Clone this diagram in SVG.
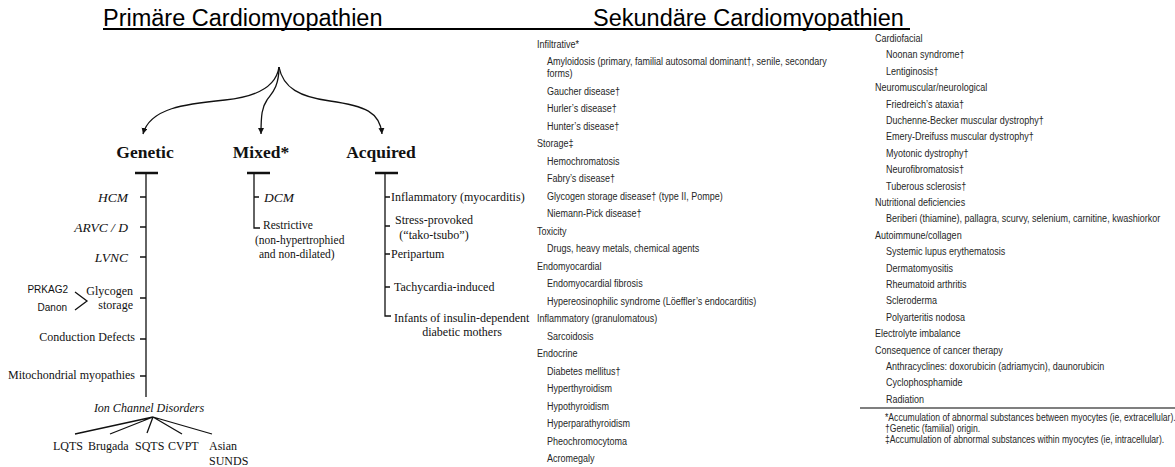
<svg xmlns="http://www.w3.org/2000/svg" width="1175" height="467" viewBox="0 0 1175 467">
<style>
.hdr{font-family:"Liberation Sans",Arial,sans-serif;font-size:23.5px;fill:#000}
.cat{font-family:"Times New Roman","Liberation Serif",serif;font-weight:bold;font-size:17.5px;fill:#111;text-anchor:middle}
.it{font-family:"Times New Roman","Liberation Serif",serif;font-size:12px;fill:#111}
.iti{font-family:"Times New Roman","Liberation Serif",serif;font-style:italic;font-size:13.5px;fill:#111}
.sm{font-family:"Times New Roman","Liberation Serif",serif;font-size:11.5px;fill:#111}
.ss{font-family:"Liberation Sans",Arial,sans-serif;font-size:10px;fill:#111}
.ln{stroke:#111;stroke-width:1.3;fill:none}
.bar{stroke:#111;stroke-width:2.5;fill:none}
.cv{stroke:#111;stroke-width:1.3;fill:none;marker-end:url(#ah)}
.ls{font-family:"Liberation Sans",Arial,sans-serif;font-size:11px;fill:#262626}
.fn{font-family:"Liberation Sans",Arial,sans-serif;font-size:10.5px;fill:#262626}
.end{text-anchor:end}
.mid{text-anchor:middle}
</style>
<defs>
<marker id="ah" markerUnits="userSpaceOnUse" markerWidth="7" markerHeight="7" refX="6" refY="3" orient="auto">
<path d="M0,0 L6,3 L0,6 z" fill="#111"/>
</marker>
</defs>
<rect width="1175" height="467" fill="#fff"/>

<g id="headers">
<text class="hdr" x="103" y="26">Primäre Cardiomyopathien</text>
<text class="hdr" x="593" y="26">Sekundäre Cardiomyopathien</text>
<line x1="103" y1="29" x2="910" y2="29" stroke="#000" stroke-width="2"/>
</g>

<g id="connectors">
<path class="cv" d="M279,67 C276,88 255,97 225,100 C185,104 150,108 143,134"/>
<path class="cv" d="M279,67 C279,88 271,94 267,100 C262,107 261,115 261,134"/>
<path class="cv" d="M279,67 C283,88 300,97 330,101 C365,106 380,112 382,134"/>
<line class="bar" x1="135" y1="173" x2="158" y2="173"/>
<line class="bar" x1="247" y1="173" x2="270" y2="173"/>
<line class="bar" x1="375" y1="173" x2="398" y2="173"/>
<path class="ln" d="M146,173 V397 M140,197 H146 M140,227 H146 M140,257 H146 M140,298 H146 M140,339 H146 M140,376 H146"/>
<path class="ln" d="M75,292 L87,301 L75,310"/>
<path class="ln" d="M153,417 L75,434 M153,417 L110,434 M153,417 L147,433 M153,417 L182,434 M153,417 L212,434"/>
<path class="ln" d="M254,173 V228 H260 M254,197 H259"/>
<path class="ln" d="M385,173 V316 H391 M385,197 H390 M385,226 H390 M385,254 H390 M385,287 H390"/>
</g>

<g id="root-genetic">
<text class="cat" x="145" y="158">Genetic</text>
<text class="iti end" x="128" y="202">HCM</text>
<text class="iti end" x="128" y="232">ARVC / D</text>
<text class="iti end" x="128" y="262">LVNC</text>
<text class="it end" x="133" y="295">Glycogen</text>
<text class="it end" x="133" y="309">storage</text>
<text class="ss end" x="68" y="292.5">PRKAG2</text>
<text class="ss end" x="67" y="310.5">Danon</text>
<text class="it end" x="135" y="341">Conduction Defects</text>
<text class="it end" x="135" y="379">Mitochondrial myopathies</text>
<text class="it mid" x="149" y="412" font-style="italic">Ion Channel Disorders</text>
<text class="it" x="53" y="450">LQTS</text>
<text class="it" x="88" y="450">Brugada</text>
<text class="it" x="135" y="450">SQTS</text>
<text class="it" x="168" y="450">CVPT</text>
<text class="it" x="209" y="450">Asian</text>
<text class="it" x="209" y="465">SUNDS</text>
</g>

<g id="mixed">
<text class="cat" x="261" y="158">Mixed*</text>
<text class="iti" x="264" y="202">DCM</text>
<text class="sm" x="263" y="229">Restrictive</text>
<text class="sm" x="255" y="244">(non-hypertrophied</text>
<text class="sm" x="259" y="258">and non-dilated)</text>
</g>

<g id="acquired">
<text class="cat" x="381" y="158">Acquired</text>
<text class="it" x="391" y="201">Inflammatory (myocarditis)</text>
<text class="it mid" x="434" y="224">Stress-provoked</text>
<text class="it mid" x="434" y="239">(“tako-tsubo”)</text>
<text class="it" x="391" y="258">Peripartum</text>
<text class="it" x="394" y="291">Tachycardia-induced</text>
<text class="it" x="394" y="322">Infants of insulin-dependent</text>
<text class="it mid" x="462" y="336">diabetic mothers</text>
</g>

<g id="secondary-list-1" transform="translate(537 0) scale(0.82 1)">
<text class="ls" x="0" y="48">Infiltrative*</text>
<text class="ls" x="12.2" y="65.5">Amyloidosis (primary, familial autosomal dominant†, senile, secondary</text>
<text class="ls" x="12.2" y="77.5">forms)</text>
<text class="ls" x="12.2" y="95">Gaucher disease†</text>
<text class="ls" x="12.2" y="112.5">Hurler’s disease†</text>
<text class="ls" x="12.2" y="130">Hunter’s disease†</text>
<text class="ls" x="0" y="147.5">Storage‡</text>
<text class="ls" x="12.2" y="165">Hemochromatosis</text>
<text class="ls" x="12.2" y="182.5">Fabry’s disease†</text>
<text class="ls" x="12.2" y="200">Glycogen storage disease† (type II, Pompe)</text>
<text class="ls" x="12.2" y="217.5">Niemann-Pick disease†</text>
<text class="ls" x="0" y="235">Toxicity</text>
<text class="ls" x="12.2" y="252.5">Drugs, heavy metals, chemical agents</text>
<text class="ls" x="0" y="270">Endomyocardial</text>
<text class="ls" x="12.2" y="287.5">Endomyocardial fibrosis</text>
<text class="ls" x="12.2" y="305">Hypereosinophilic syndrome (Löeffler’s endocarditis)</text>
<text class="ls" x="0" y="322.5">Inflammatory (granulomatous)</text>
<text class="ls" x="12.2" y="340">Sarcoidosis</text>
<text class="ls" x="0" y="357.5">Endocrine</text>
<text class="ls" x="12.2" y="375">Diabetes mellitus†</text>
<text class="ls" x="12.2" y="392.5">Hyperthyroidism</text>
<text class="ls" x="12.2" y="410">Hypothyroidism</text>
<text class="ls" x="12.2" y="427.5">Hyperparathyroidism</text>
<text class="ls" x="12.2" y="445">Pheochromocytoma</text>
<text class="ls" x="12.2" y="462.5">Acromegaly</text>
</g>

<g id="secondary-list-2" transform="translate(875 0) scale(0.82 1)">
<text class="ls" x="0" y="42">Cardiofacial</text>
<text class="ls" x="13.4" y="58.4">Noonan syndrome†</text>
<text class="ls" x="13.4" y="74.8">Lentiginosis†</text>
<text class="ls" x="0" y="91.2">Neuromuscular/neurological</text>
<text class="ls" x="13.4" y="107.6">Friedreich’s ataxia†</text>
<text class="ls" x="13.4" y="124">Duchenne-Becker muscular dystrophy†</text>
<text class="ls" x="13.4" y="140.4">Emery-Dreifuss muscular dystrophy†</text>
<text class="ls" x="13.4" y="156.8">Myotonic dystrophy†</text>
<text class="ls" x="13.4" y="173.2">Neurofibromatosis†</text>
<text class="ls" x="13.4" y="189.6">Tuberous sclerosis†</text>
<text class="ls" x="0" y="206">Nutritional deficiencies</text>
<text class="ls" x="13.4" y="222.4">Beriberi (thiamine), pallagra, scurvy, selenium, carnitine, kwashiorkor</text>
<text class="ls" x="0" y="238.8">Autoimmune/collagen</text>
<text class="ls" x="13.4" y="255.2">Systemic lupus erythematosis</text>
<text class="ls" x="13.4" y="271.6">Dermatomyositis</text>
<text class="ls" x="13.4" y="288">Rheumatoid arthritis</text>
<text class="ls" x="13.4" y="304.4">Scleroderma</text>
<text class="ls" x="13.4" y="320.8">Polyarteritis nodosa</text>
<text class="ls" x="0" y="337.2">Electrolyte imbalance</text>
<text class="ls" x="0" y="353.6">Consequence of cancer therapy</text>
<text class="ls" x="13.4" y="370">Anthracyclines: doxorubicin (adriamycin), daunorubicin</text>
<text class="ls" x="13.4" y="386.4">Cyclophosphamide</text>
<text class="ls" x="13.4" y="402.8">Radiation</text>
</g>

<g id="footnotes">
<line x1="860" y1="408" x2="1175" y2="408" stroke="#555" stroke-width="1.5"/>
<g transform="translate(885 0) scale(0.82 1)">
<text class="fn" x="0" y="421.5">*Accumulation of abnormal substances between myocytes (ie, extracellular).</text>
<text class="fn" x="0" y="432.5">†Genetic (familial) origin.</text>
<text class="fn" x="0" y="443.5">‡Accumulation of abnormal substances within myocytes (ie, intracellular).</text>
</g>
</g>
</svg>
